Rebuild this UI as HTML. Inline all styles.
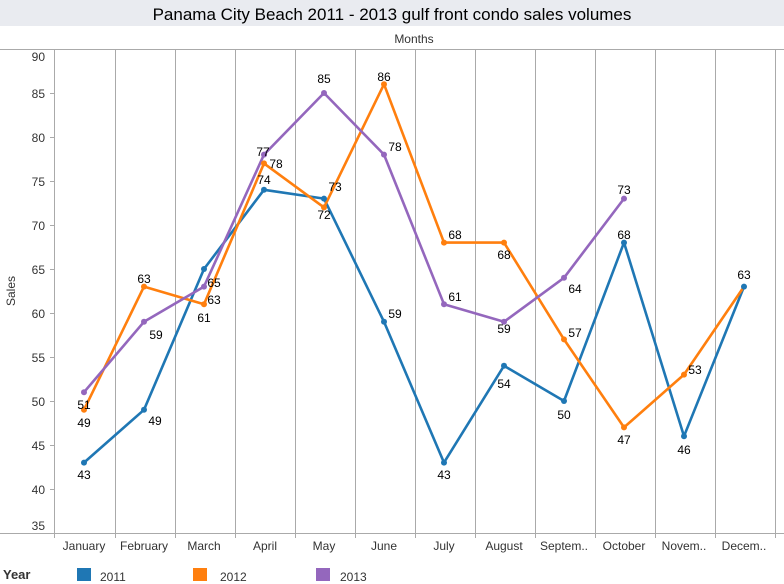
<!DOCTYPE html>
<html><head><style>
body{margin:0;background:#fff;width:784px;height:584px;overflow:hidden;font-family:"Liberation Sans",Arial,sans-serif}
</style></head><body>
<svg width="784" height="584" xmlns="http://www.w3.org/2000/svg" font-family="Liberation Sans, Arial, sans-serif" style="display:block">
<rect x="0" y="0" width="784" height="26" fill="#e9ebf0"/>
<text x="392" y="20" font-size="17" text-anchor="middle" fill="#000">Panama City Beach 2011 - 2013 gulf front condo sales volumes</text>
<text x="414" y="43" font-size="12" text-anchor="middle" fill="#333">Months</text>
<line x1="0" y1="49.5" x2="784" y2="49.5" stroke="#aaa"/>
<line x1="0" y1="533.5" x2="784" y2="533.5" stroke="#aaa"/>
<g stroke="#aaa">
<line x1="54.5" y1="49" x2="54.5" y2="538"/>
<line x1="115.5" y1="49" x2="115.5" y2="538"/><line x1="175.5" y1="49" x2="175.5" y2="538"/>
<line x1="235.5" y1="49" x2="235.5" y2="538"/><line x1="295.5" y1="49" x2="295.5" y2="538"/>
<line x1="355.5" y1="49" x2="355.5" y2="538"/><line x1="415.5" y1="49" x2="415.5" y2="538"/>
<line x1="475.5" y1="49" x2="475.5" y2="538"/><line x1="535.5" y1="49" x2="535.5" y2="538"/>
<line x1="595.5" y1="49" x2="595.5" y2="538"/><line x1="655.5" y1="49" x2="655.5" y2="538"/>
<line x1="715.5" y1="49" x2="715.5" y2="538"/><line x1="775.5" y1="49" x2="775.5" y2="538"/>
<line x1="50" y1="93.5" x2="54" y2="93.5"/><line x1="50" y1="137.5" x2="54" y2="137.5"/>
<line x1="50" y1="181.5" x2="54" y2="181.5"/><line x1="50" y1="225.5" x2="54" y2="225.5"/>
<line x1="50" y1="269.5" x2="54" y2="269.5"/><line x1="50" y1="313.5" x2="54" y2="313.5"/>
<line x1="50" y1="357.5" x2="54" y2="357.5"/><line x1="50" y1="401.5" x2="54" y2="401.5"/>
<line x1="50" y1="445.5" x2="54" y2="445.5"/><line x1="50" y1="489.5" x2="54" y2="489.5"/>
</g>
<g font-size="12" fill="#333" text-anchor="end">
<text x="45" y="61">90</text><text x="45" y="98">85</text><text x="45" y="142">80</text>
<text x="45" y="186">75</text><text x="45" y="230">70</text><text x="45" y="274">65</text>
<text x="45" y="318">60</text><text x="45" y="362">55</text><text x="45" y="406">50</text>
<text x="45" y="450">45</text><text x="45" y="494">40</text><text x="45" y="530">35</text>
</g>
<text x="15" y="291" font-size="12" fill="#333" text-anchor="middle" transform="rotate(-90 15 291)">Sales</text>
<g font-size="12" fill="#333" text-anchor="middle">
<text x="84" y="550">January</text><text x="144" y="550">February</text><text x="204" y="550">March</text>
<text x="265" y="550">April</text><text x="324" y="550">May</text><text x="384" y="550">June</text>
<text x="444" y="550">July</text><text x="504" y="550">August</text><text x="564" y="550">Septem..</text>
<text x="624" y="550">October</text><text x="684" y="550">Novem..</text><text x="744" y="550">Decem..</text>
</g>
<g fill="none" stroke-width="2.6" stroke-linejoin="round">
<polyline stroke="#1f77b4" points="84,462.6 144,409.8 204,269 264,189.8 324,198.6 384,321.8 444,462.6 504,365.8 564,401 624,242.6 684,436.2 744,286.6"/>
<polyline stroke="#ff7f0e" points="84,409.8 144,286.6 204,304.2 264,163.4 324,207.4 384,84.2 444,242.6 504,242.6 564,339.4 624,427.4 684,374.6 744,286.6"/>
<polyline stroke="#9467bd" points="84,392.2 144,321.8 204,286.6 264,154.6 324,93 384,154.6 444,304.2 504,321.8 564,277.8 624,198.6"/>
</g>
<g fill="#1f77b4"><circle cx="84" cy="462.6" r="3"/><circle cx="144" cy="409.8" r="3"/><circle cx="204" cy="269" r="3"/><circle cx="264" cy="189.8" r="3"/><circle cx="324" cy="198.6" r="3"/><circle cx="384" cy="321.8" r="3"/><circle cx="444" cy="462.6" r="3"/><circle cx="504" cy="365.8" r="3"/><circle cx="564" cy="401" r="3"/><circle cx="624" cy="242.6" r="3"/><circle cx="684" cy="436.2" r="3"/></g>
<g fill="#ff7f0e"><circle cx="84" cy="409.8" r="3"/><circle cx="144" cy="286.6" r="3"/><circle cx="204" cy="304.2" r="3"/><circle cx="264" cy="163.4" r="3"/><circle cx="324" cy="207.4" r="3"/><circle cx="384" cy="84.2" r="3"/><circle cx="444" cy="242.6" r="3"/><circle cx="504" cy="242.6" r="3"/><circle cx="564" cy="339.4" r="3"/><circle cx="624" cy="427.4" r="3"/><circle cx="684" cy="374.6" r="3"/></g>
<circle cx="744" cy="286.6" r="3" fill="#1f77b4"/>
<g fill="#9467bd"><circle cx="84" cy="392.2" r="3"/><circle cx="144" cy="321.8" r="3"/><circle cx="204" cy="286.6" r="3"/><circle cx="264" cy="154.6" r="3"/><circle cx="324" cy="93" r="3"/><circle cx="384" cy="154.6" r="3"/><circle cx="444" cy="304.2" r="3"/><circle cx="504" cy="321.8" r="3"/><circle cx="564" cy="277.8" r="3"/><circle cx="624" cy="198.6" r="3"/></g>
<g font-size="12" fill="#000" text-anchor="middle" dominant-baseline="middle">
<text x="84" y="476">43</text><text x="155" y="422">49</text><text x="214" y="284">65</text><text x="264" y="181">74</text>
<text x="335" y="188">73</text><text x="395" y="315">59</text><text x="444" y="476">43</text><text x="504" y="385">54</text>
<text x="564" y="416">50</text><text x="624" y="236">68</text><text x="684" y="451">46</text><text x="744" y="276">63</text>
<text x="84" y="424">49</text><text x="144" y="280">63</text><text x="204" y="319">61</text><text x="263" y="153">77</text>
<text x="324" y="216">72</text><text x="384" y="78">86</text><text x="455" y="236">68</text><text x="504" y="256">68</text>
<text x="575" y="334">57</text><text x="624" y="441">47</text><text x="695" y="371">53</text>
<text x="84" y="406">51</text><text x="156" y="336">59</text><text x="214" y="301">63</text><text x="276" y="165">78</text>
<text x="324" y="80">85</text><text x="395" y="148">78</text><text x="455" y="298">61</text><text x="504" y="330">59</text>
<text x="575" y="290">64</text><text x="624" y="191">73</text>
</g>
<text x="3" y="579" font-size="13" font-weight="bold" fill="#333">Year</text>
<rect x="77" y="568" width="14" height="13" fill="#1f77b4"/><text x="100" y="581" font-size="12" fill="#333">2011</text>
<rect x="193" y="568" width="14" height="13" fill="#ff7f0e"/><text x="220" y="581" font-size="12" fill="#333">2012</text>
<rect x="316" y="568" width="14" height="13" fill="#9467bd"/><text x="340" y="581" font-size="12" fill="#333">2013</text>
</svg>
</body></html>
